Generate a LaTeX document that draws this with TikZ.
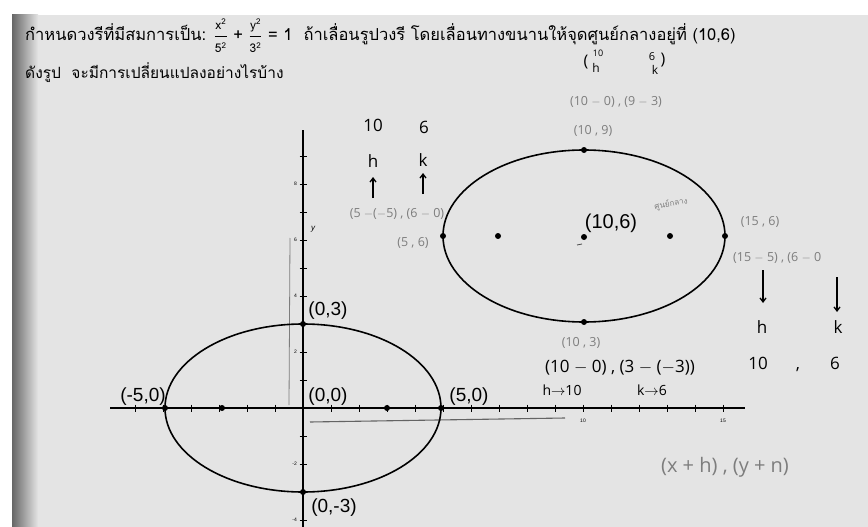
\documentclass[tikz,border=0pt]{standalone}
\usepackage{fontspec}
\setmainfont{Liberation Sans}
\newfontfamily\thaifont[Script=Thai]{Loma}
\newfontfamily\handfont{Open Sans}
\usetikzlibrary{arrows.meta}
\definecolor{paper}{RGB}{228,228,228}
\definecolor{pencil}{RGB}{125,125,125}
\newcommand{\fracpart}[1]{\mbox{\fontsize{12}{12}\selectfont #1}}
\begin{document}
\begin{tikzpicture}[x=1pt,y=-1pt,
  dot/.style={circle,fill=black,inner sep=0pt,minimum size=6pt},
  lbl/.style={font=\fontsize{19}{21}\selectfont, inner sep=0pt},
  hand/.style={font=\handfont\fontsize{17}{19}\selectfont, inner sep=0pt},
  penc/.style={font=\handfont\fontsize{12.5}{14}\selectfont, text=pencil, inner sep=0pt},
  ticklbl/.style={font=\fontsize{5}{6}\selectfont, inner sep=0pt},
  axisline/.style={line width=2.4pt},
  curve/.style={line width=1.6pt},
  harrow/.style={line width=1.3pt,-{Straight Barb[length=4pt,width=6pt]}},
  pencilline/.style={draw=pencil, line width=0.8pt},
]
\useasboundingbox (0,0) rectangle (868,527);
\fill[white] (0,0) rectangle (868,527);
\fill[paper] (12,15) rectangle (868,527);
\shade[left color=black!60, right color=paper] (12,15) rectangle (38,527);

% header
\node[anchor=base west, font=\thaifont\fontsize{16.5}{19}\selectfont, inner sep=0pt] (title) at (25,41)
  {กำหนดวงรีที่มีสมการเป็น: $\displaystyle\frac{\fracpart{x\textsuperscript{2}}}{\fracpart{5\textsuperscript{2}}}\mbox{ + }\frac{\fracpart{y\textsuperscript{2}}}{\fracpart{3\textsuperscript{2}}}$ = 1\ \ ถ้าเลื่อนรูปวงรี โดยเลื่อนทางขนานให้จุดศูนย์กลางอยู่ที่ (10,6)};
\node[anchor=base west, font=\thaifont\fontsize{15.5}{18}\selectfont, inner sep=0pt] (question) at (25,79)
  {ดังรูป\ \ จะมีการเปลี่ยนแปลงอย่างไรบ้าง};

% pencil strokes
\draw[pencilline] (290,238) -- (289,405);
\draw[pencilline, line width=1.1pt, draw=pencil!80!black] (310,422) -- (565,418);

% axes
\coordinate (xl) at (110,408);
\coordinate (xr) at (745,408);
\coordinate (yt) at (303,130);
\coordinate (yb) at (303,527);
\draw[axisline] (xl) -- (xr);
\draw[axisline] (yt) -- (yb);
\foreach \i in {-6,...,15} \draw[line width=0.6pt] ({303+28*\i},404.5) -- ({303+28*\i},411.5);
\foreach \j in {-4,...,9} \draw[line width=0.6pt] (299.5,{408-28*\j}) -- (306.5,{408-28*\j});
\foreach \j in {8,6,4,2,-2,-4} \node[ticklbl, anchor=east] (ty\j) at (297,{408-28*\j}) {\j};
\node[ticklbl] (tx10) at (583,421) {10};
\node[ticklbl] (tx15) at (723,421) {15};
\node[font=\fontsize{8}{9}\selectfont\itshape\rmfamily, inner sep=0pt] (ylab) at (313,229) {y};

% ellipses
\draw[curve] (303,408) ellipse [x radius=138pt, y radius=84pt];
\draw[curve] (584,236) ellipse [x radius=141pt, y radius=86pt];

% dots ellipse 1
\node[dot] (a1) at (165,408) {};
\node[dot] (a2) at (441,408) {};
\node[dot] (b1) at (303,324) {};
\node[dot] (b2) at (303,492) {};
\node[dot] (f1) at (222,408) {};
\node[dot] (f2) at (387,408) {};
% dots ellipse 2
\node[dot] (c1) at (443,236) {};
\node[dot] (c2) at (725,236) {};
\node[dot] (d1) at (584,150) {};
\node[dot] (d2) at (584,322) {};
\node[dot] (g1) at (498,236) {};
\node[dot] (g2) at (670,236) {};
\node[dot] (cen) at (584,237) {};
\draw[pencilline, draw=black!70] (577,245) -- (582,244);

% printed labels
\node[lbl] (l03) at (328,311) {(0,3)};
\node[lbl] (l00) at (328,397) {(0,0)};
\node[lbl] (lm50) at (143,397) {(-5,0)};
\node[lbl] (l50) at (469,397) {(5,0)};
\node[lbl] (l0m3) at (334,508) {(0,-3)};
\node[lbl, font=\fontsize{20}{22}\selectfont] (l106) at (611,223) {(10,6)};
\node[penc, font=\thaifont\fontsize{8}{9}\selectfont, rotate=10] (cname) at (671,204) {ศูนย์กลาง};

% handwriting, left group
\node[hand] (h10) at (373,125) {10};
\node[hand] (k6) at (424,127) {6};
\node[hand] (hh) at (373,161) {h};
\node[hand] (kk) at (423,160) {k};
\coordinate (ha) at (373,198);
\coordinate (hb) at (373,177);
\coordinate (ka) at (423,194);
\coordinate (kb) at (423,173);
\draw[harrow] (ha) -- (hb);
\draw[harrow] (ka) -- (kb);
\node[penc] (lsub) at (397,214) {(5 $-$($-$5) , (6 $-$ 0)};
\node[penc] (l56) at (413,243) {(5 , 6)};

% handwriting, top group
\node[hand, font=\handfont\fontsize{16}{17}\selectfont] (tp1) at (586,62) {(};
\node[hand, font=\handfont\fontsize{9}{10}\selectfont] (t10) at (598,53) {10};
\node[hand, font=\handfont\fontsize{12}{13}\selectfont] (th) at (596,68) {h};
\node[hand, font=\handfont\fontsize{11}{12}\selectfont] (t6) at (652,57) {6};
\node[hand, font=\handfont\fontsize{12}{13}\selectfont] (tk) at (655,70) {k};
\node[hand, font=\handfont\fontsize{16}{17}\selectfont] (tp2) at (663,60) {)};
\node[penc] (tsub) at (616,102) {(10 $-$ 0) , (9 $-$ 3)};
\node[penc] (t109) at (593,131) {(10 , 9)};

% handwriting, right group
\node[penc] (r156) at (760,222) {(15 , 6)};
\node[penc, anchor=west] (rsub) at (733,258) {(15 $-$ 5) , (6 $-$ 0};
\coordinate (ra1) at (763,270);
\coordinate (ra2) at (763,303);
\coordinate (rb1) at (837,277);
\coordinate (rb2) at (837,312);
\draw[harrow] (ra1) -- (ra2);
\draw[harrow] (rb1) -- (rb2);
\node[hand] (rh) at (762,327) {h};
\node[hand] (rk) at (838,327) {k};
\node[hand] (r10) at (758,363) {10};
\node[hand] (rc) at (798,370) {,};
\node[hand] (r6) at (835,363) {6};

% handwriting, bottom group
\node[penc] (b103) at (581,343) {(10 , 3)};
\node[hand] (bsub) at (620,368) {(10 $-$ 0) , (3 $-$ ($-$3))};
\node[hand, font=\handfont\fontsize{14}{15}\selectfont] (bh) at (562,390) {h$\to$10};
\node[hand, font=\handfont\fontsize{14}{15}\selectfont] (bk) at (652,390) {k$\to$6};
\node[penc, font=\handfont\fontsize{20}{22}\selectfont] (xy) at (725,467) {(x + h) , (y + n)};
\end{tikzpicture}
\end{document}
